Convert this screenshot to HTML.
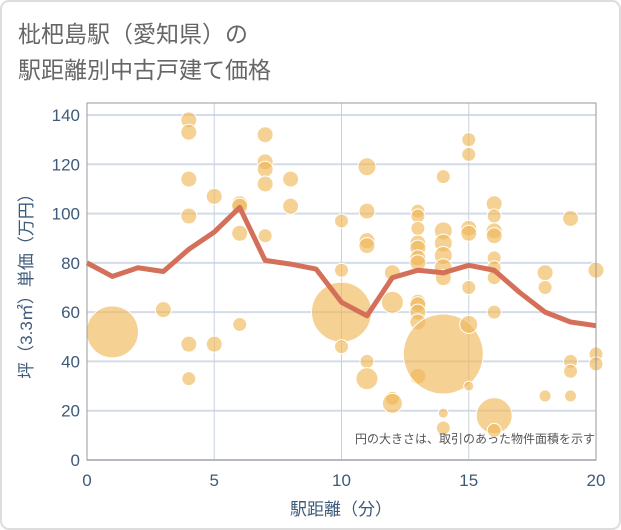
<!DOCTYPE html>
<html><head><meta charset="utf-8"><style>
body{margin:0;background:#fff;}
svg{display:block;font-family:"Liberation Sans","Noto Sans CJK JP",sans-serif;}
</style></head><body>
<svg id="c" width="621" height="530">
<rect x="1" y="1" width="619" height="528" rx="8" fill="#fff" stroke="#ddd" stroke-width="2"/>
<text x="18" y="42" font-size="23" fill="#666">枇杷島駅（愛知県）の</text>
<text x="18" y="78" font-size="23" fill="#666">駅距離別中古戸建て価格</text>
<g id="grid"></g>
<g id="bubbles"></g>
<g id="line"></g>
<rect x="87" y="103" width="509" height="357" fill="none" stroke="#999" stroke-width="1"/>
<g id="ticks"></g>
<text x="595" y="443" font-size="12" fill="#555" text-anchor="end">円の大きさは、取引のあった物件面積を示す</text>
<text x="341" y="515" font-size="17" fill="#3d5a7a" text-anchor="middle">駅距離（分）</text>
<text transform="translate(32,282) rotate(-90)" font-size="17" fill="#3d5a7a" text-anchor="middle">坪（3.3㎡）単価（万円）</text>
</svg>
<script>
const xTicks=[0,5,10,15,20];
const yTicks=[0,20,40,60,80,100,120,140];
const bubbleX=[1,3,4,4,4,4,4,4,5,5,6,6,6,6,7,7,7,7,7,8,8,10,10,10,10,11,11,11,11,11,11,12,12,12,12,13,13,13,13,13,13,13,13,13,13,13,13,14,14,14,14,14,14,14,14,14,15,15,15,15,15,15,15,16,16,16,16,16,16,16,16,16,16,18,18,18,19,19,19,19,20,20,20];
const bubbleY=[52,61,138,133,114,99,47,33,107,47,104,103,92,55,132,121,118,112,91,114,103,97,77,60,46,119,101,89,87,40,33,76,64,25,23,101,99,94,88,86,82,80,64,63,60,56,34,115,93,88,83,78,74,43,19,13,130,124,94,92,70,55,30,104,99,93,91,82,78,74,60,18,12,76,70,26,98,40,36,26,77,43,39];
const bubbleR=[26,8,8,8,8,8,8,7,8,8,8,8,8,7,8,8,8,8,7,8,8,7,7,30,7,9,8,8,8,7,11,8,11,7,10,7,7,7,8,8,8,8,8,8,8,8,8,7,9,9,9,9,8,40,5,7,7,7,8,8,7,9,5,8,7,8,8,7,7,7,7,18,7,8,7,6,8,7,7,6,8,7,7];
const lineX=[0,1,2,3,4,5,6,7,8,9,10,11,12,13,14,15,16,17,18,19,20];
const lineY=[80,74.5,78,76.5,85.5,92.5,102.5,81,79.5,77.5,64,58.5,74,77,76,79,77,68,60,56,54.5];
const X0=87,X1=596,Y0=460,Y1=115;
const sx=v=>X0+(X1-X0)*v/20;
const sy=v=>Y0-(Y0-Y1)*v/140;
const NS="http://www.w3.org/2000/svg";
function mk(tag,attrs,parent){const e=document.createElementNS(NS,tag);for(const k in attrs)e.setAttribute(k,attrs[k]);parent.appendChild(e);return e;}
const g=document.getElementById('grid'),tk=document.getElementById('ticks');
yTicks.forEach(t=>{
 const l=mk('line',{x1:X0,x2:X1,y1:sy(t),y2:sy(t),stroke:'#d3dce8','stroke-width':2},g);
 
 
 const tx=mk('text',{x:80,y:sy(t)+6,'font-size':17,fill:'#3d5a7a','text-anchor':'end'},tk);
 tx.textContent=t;
 
 
});
xTicks.forEach(t=>{
 const l=mk('line',{x1:sx(t),x2:sx(t),y1:103,y2:Y0,stroke:'#c8d2de','stroke-width':1},g);
 
 
 const tx=mk('text',{x:sx(t),y:486,'font-size':17,fill:'#3d5a7a','text-anchor':'middle'},tk);
 tx.textContent=t;
 
 
});
const bg=document.getElementById('bubbles');
bubbleX.forEach((x,i)=>{
 const c=mk('circle',{cx:sx(x),cy:sy(bubbleY[i]),r:bubbleR[i],fill:'rgba(240,185,90,0.65)',stroke:'#fff','stroke-width':1},bg);
 
 
});
const pts=lineX.map((x,i)=>sx(x)+','+sy(lineY[i])).join(' ');
const pl=mk('polyline',{points:pts,fill:'none',stroke:'#d4705a','stroke-width':5,'stroke-linejoin':'round'},document.getElementById('line'));


</script>
</body></html>
